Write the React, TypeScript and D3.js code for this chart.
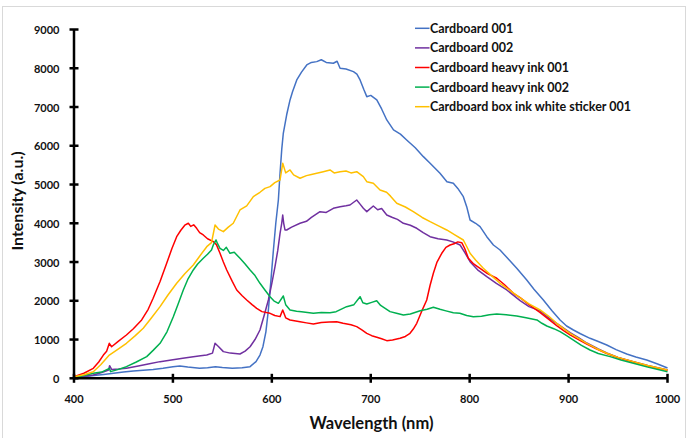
import React from "react";
import * as d3 from "d3";

type P = [number, number];

const seriesNames = [
  "Cardboard 001",
  "Cardboard 002",
  "Cardboard heavy ink 001",
  "Cardboard heavy ink 002",
  "Cardboard box ink white sticker 001",
];
const seriesColors = ["#4472C4", "#7030A0", "#FF0000", "#00B050", "#FFC000"];

const xTicks = [400, 500, 600, 700, 800, 900, 1000];
const yTicks = [0, 1000, 2000, 3000, 4000, 5000, 6000, 7000, 8000, 9000];

const cardboard001: P[] = [
  [400,20],[410,40],[420,70],[430,100],[440,130],[450,160],[460,190],[470,210],[480,230],[490,260],[500,300],[507,320],[515,290],[527,258],[535,270],[543,300],[550,280],[560,258],[570,270],[578,300],[584,430],[588,600],[591,815],[594,1200],[596.5,1763],[599,2500],[601.6,3311],[604,4000],[606.6,4601],[608.3,5290],[610,5900],[611.6,6322],[615,6800],[618.4,7182],[621,7400],[625.2,7698],[630,7900],[635.3,8085],[640,8150],[645.4,8171],[650,8220],[655,8150],[662.2,8129],[666,8180],[669,8000],[675,7980],[682.5,7912],[686,7850],[689.2,7698],[693,7450],[696,7267],[700,7300],[706.1,7182],[711,6950],[716.2,6666],[723,6408],[730,6300],[736.3,6150],[745,5950],[753.2,5719],[760,5550],[770,5290],[777,5074],[783.5,5032],[788,4900],[793.6,4687],[797,4429],[800.4,4085],[806,4000],[810.5,3912],[817.3,3654],[824,3440],[830.7,3311],[840,3050],[847.6,2839],[857.7,2537],[865,2300],[874.5,2021],[883,1750],[891.4,1505],[898,1350],[904.9,1246],[912,1150],[921.7,1032],[930,950],[938.6,860],[948,740],[958.8,627],[968,550],[979,472],[990,370],[1000,265]
];

const cardboard002: P[] = [
  [400,30],[410,50],[419.5,85],[428,150],[435,214],[436,325],[438,230],[445,240],[453,258],[465,320],[475,370],[487,430],[500,480],[510,520],[520.6,559],[528,580],[534.2,600],[540,650],[542.6,903],[546,820],[551,688],[558,650],[567.8,627],[573,700],[578,815],[583,1000],[588,1246],[592,1600],[596.5,2021],[600,2450],[603.2,2881],[606,3300],[608.3,3742],[610,4000],[611,4214],[612,4000],[613.3,3827],[615,3827],[620,3900],[628.5,4000],[635,4050],[640,4150],[648.7,4300],[655,4280],[662.2,4387],[669,4429],[675,4450],[679,4472],[685.8,4601],[689,4500],[692.5,4387],[696,4300],[702.6,4446],[707,4350],[711,4380],[716.2,4214],[722,4150],[727,4100],[733,4000],[740,3950],[746.5,3871],[753,3760],[760,3654],[768,3600],[776.8,3569],[783,3520],[790.3,3440],[795,3250],[800.4,3010],[808,2800],[817.3,2622],[827,2450],[837.5,2279],[851,2003],[860,1850],[871.2,1740],[880,1560],[888,1419],[901.5,1180],[910,1050],[918.4,910],[930,760],[938.6,655],[950,540],[965.5,430],[980,330],[1000,215]
];

const heavyInk001: P[] = [
  [400,41],[410,130],[419.5,258],[425,420],[429.7,600],[433,700],[435.7,903],[438,815],[445,960],[453,1117],[460,1280],[468.4,1505],[475,1780],[480,2064],[487,2500],[493.7,2967],[499,3350],[503.8,3654],[508,3820],[512,3950],[515.6,4000],[518,3920],[521,3960],[524,3870],[527,3760],[530.7,3698],[535,3600],[540.9,3526],[544,3450],[547.6,3226],[551,3000],[554.4,2795],[560,2500],[564.5,2279],[570,2130],[574.6,2021],[580,1900],[584.7,1806],[590,1720],[598.2,1677],[603,1620],[608.3,1591],[611,1763],[614,1560],[618.4,1505],[628.5,1461],[635,1430],[642,1400],[650,1440],[658,1450],[665.6,1461],[672,1420],[680,1380],[685.8,1333],[691,1250],[696,1161],[701,1100],[706.1,1058],[711,1020],[716.2,971],[722,990],[729.6,1032],[735,1080],[739.7,1161],[743,1270],[746.5,1419],[751,1700],[756.6,2021],[760,2400],[763.3,2710],[767,3000],[771.8,3226],[776,3380],[780.2,3440],[785,3480],[788,3520],[792,3500],[795,3350],[798.7,3097],[804,2950],[810.5,2839],[818,2700],[827.4,2581],[835,2420],[844.2,2194],[851,2080],[860,1900],[871,1700],[880,1520],[888,1360],[895,1230],[901.5,1120],[910,1000],[918.4,880],[928,760],[938.6,640],[950,530],[965.5,420],[980,320],[1000,205]
];

const heavyInk002: P[] = [
  [400,20],[410,70],[419.5,129],[428,160],[435.7,258],[437,172],[445,230],[453,300],[463,420],[473.5,559],[480,720],[487,903],[494,1200],[500.4,1590],[505,1900],[510.5,2279],[515,2550],[520.6,2795],[525,2950],[530.7,3097],[535,3200],[539,3311],[541,3450],[543.6,3569],[545,3480],[547.6,3355],[551,3300],[554,3380],[557.7,3226],[562,3250],[567.8,3097],[573,2950],[578,2795],[583,2650],[588,2451],[593,2280],[598.2,2106],[602,2000],[606.6,1935],[611.6,2124],[614,1900],[618.4,1763],[625,1730],[630,1720],[642,1677],[650,1700],[658.8,1693],[665,1720],[675.6,1848],[683,1900],[689.2,2106],[692,1950],[696,1917],[701,1960],[706,2003],[710,1880],[719.5,1720],[726,1680],[733,1634],[740,1660],[750,1745],[757,1780],[763.3,1832],[770,1780],[776,1740],[783.5,1693],[790,1680],[797,1620],[803.7,1590],[812,1600],[820,1640],[827.4,1659],[837,1640],[847.6,1608],[857,1560],[868,1505],[873,1420],[878,1350],[885,1280],[891.4,1203],[898,1100],[904.9,988],[913,850],[921.7,730],[930,640],[942,559],[953,470],[965.5,387],[980,290],[1000,170]
];

const boxInkSticker001: P[] = [
  [400,41],[410,90],[419.5,170],[427,350],[435.7,600],[445,760],[453,903],[462,1100],[470,1290],[478,1550],[487,1849],[495,2150],[503.8,2451],[512,2700],[520.6,2924],[527,3150],[534.2,3396],[539,3500],[542.6,3956],[546,3850],[551,3784],[556,3900],[561,4000],[567.8,4343],[574.6,4450],[581.3,4687],[588,4800],[593,4900],[598.2,4945],[603,5050],[608.3,5117],[611,5548],[614,5300],[618.4,5375],[622,5250],[628.5,5161],[635,5230],[640,5260],[645.4,5290],[652,5330],[658.8,5375],[663,5300],[669,5332],[675,5350],[680,5300],[685.8,5332],[692.5,5203],[696,5074],[702.6,5032],[709.4,4859],[716,4800],[720,4700],[726.3,4516],[735,4420],[743,4300],[752,4150],[760,4041],[768,3940],[776.8,3827],[785,3700],[793.6,3569],[797,3400],[800.4,3226],[806,3050],[813.8,2839],[822,2650],[830.7,2451],[840,2280],[849.2,2106],[860,1920],[871.2,1763],[880,1600],[888,1419],[895,1280],[901.5,1161],[910,1030],[918.4,903],[928,770],[938.6,645],[950,540],[965.5,430],[980,330],[1000,215]
];

const allSeries = [cardboard001, cardboard002, heavyInk001, heavyInk002, boxInkSticker001];

const W = 692;
const H = 438;
const FONT = "Lato, 'Open Sans', sans-serif";

export default function App() {
  const x = d3.scaleLinear().domain([400, 1000]).range([74, 667.5]);
  const y = d3.scaleLinear().domain([0, 9000]).range([378.3, 29.5]);
  const line = d3
    .line<P>()
    .x((d) => x(d[0]))
    .y((d) => y(d[1]));

  return (
    <svg
      width={W}
      height={H}
      style={{ position: "absolute", left: 0, top: 0, background: "#fff" }}
      fontFamily={FONT}
    >
      <rect x={0} y={0} width={W} height={H} fill="#fff" />
      <rect x={2.5} y={6.5} width={683} height={440} fill="none" stroke="#d9d9d9" strokeWidth={1} />

      {allSeries.map((s, i) => (
        <path
          key={i}
          d={line(s) || ""}
          fill="none"
          stroke={seriesColors[i]}
          strokeWidth={1.5}
          strokeLinejoin="round"
        />
      ))}

      {/* Y axis */}
      <line x1={x(400)} x2={x(400)} y1={y(9000)} y2={y(0)} stroke="#000" strokeWidth={2.5} />
      {yTicks.map((t) => (
        <g key={"y" + t}>
          <line x1={x(400) - 4.5} x2={x(400) + 4.5} y1={y(t)} y2={y(t)} stroke="#000" strokeWidth={2.5} />
          <text
            x={59.5}
            y={y(t)}
            textAnchor="end"
            dominantBaseline="central"
            fontSize={11}
            fontWeight="bold"
            fill="#111"
          >
            {t}
          </text>
        </g>
      ))}

      {/* X axis */}
      <line x1={x(400)} x2={x(1000)} y1={y(0)} y2={y(0)} stroke="#000" strokeWidth={2.5} />
      {xTicks.map((t) => (
        <g key={"x" + t}>
          <line x1={x(t)} x2={x(t)} y1={y(0) - 4.5} y2={y(0) + 4.5} stroke="#000" strokeWidth={2.5} />
          <text x={x(t)} y={402.5} textAnchor="middle" fontSize={11} fontWeight="bold" fill="#111">
            {t}
          </text>
        </g>
      ))}

      <text x={371.5} y={429} textAnchor="middle" fontSize={16.5} fontWeight="bold" fill="#111">
        Wavelength (nm)
      </text>
      <text
        transform={`translate(23,201) rotate(-90)`}
        textAnchor="middle"
        fontSize={16}
        fontWeight="bold"
        fill="#111"
      >
        Intensity (a.u.)
      </text>

      {/* Legend */}
      {seriesNames.map((n, i) => {
        const ly = 28.3 + i * 19.6;
        return (
          <g key={n}>
            <line x1={415} x2={429.5} y1={ly} y2={ly} stroke={seriesColors[i]} strokeWidth={1.5} />
            <text x={430} y={ly} dominantBaseline="central" fontSize={12.5} fontWeight="bold" fill="#111">
              {n}
            </text>
          </g>
        );
      })}
    </svg>
  );
}
